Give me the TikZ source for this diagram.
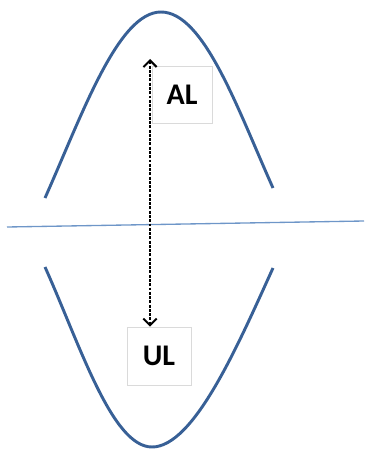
\documentclass[tikz,border=0pt]{standalone}
\usepackage{fontspec}
\setmainfont{Carlito}
\usetikzlibrary{arrows.meta}
\definecolor{curveblue}{RGB}{56,96,150}
\definecolor{axisblue}{RGB}{110,150,200}
\definecolor{boxgray}{RGB}{218,218,218}
\tikzset{
  wave/.style={draw=curveblue, line width=2.2pt},
  lvlbox/.style={draw=boxgray, line width=0.6pt, fill=white, inner sep=0pt,
    font=\fontsize{22.5}{27}\selectfont\bfseries},
}
\begin{document}
\begin{tikzpicture}[x=0.75pt,y=0.75pt,yscale=-1,xscale=1]
        \useasboundingbox (0,0) rectangle (364,449);
        % upper and lower arches
        \draw [wave] (45,198) .. controls (82,115) and (118,12) .. (161,12) .. controls (204,12) and (238,110) .. (273,188) ;
        \draw [wave] (45,267) .. controls (80,345) and (112,447) .. (152,447) .. controls (194,447) and (238,345) .. (273,268) ;
        % base line
        \draw [axisblue, line width=1pt] (7,227) -- (364,221) ;
        % level boxes
        \node (al) [lvlbox, minimum width=45pt, minimum height=42.75pt] at (182,94.5) {AL};
        \node (ul) [lvlbox, minimum width=48pt, minimum height=43.5pt] at (159,356) {UL};
        \coordinate (atop) at (150,59);
        \draw [line width=1.5pt, dash pattern=on 2.2pt off 1pt, {Straight Barb[length=5pt,width=10pt]}-{Straight Barb[length=5pt,width=10pt]}] (atop) -- (atop |- ul.north) ;
    \end{tikzpicture}
\end{document}
